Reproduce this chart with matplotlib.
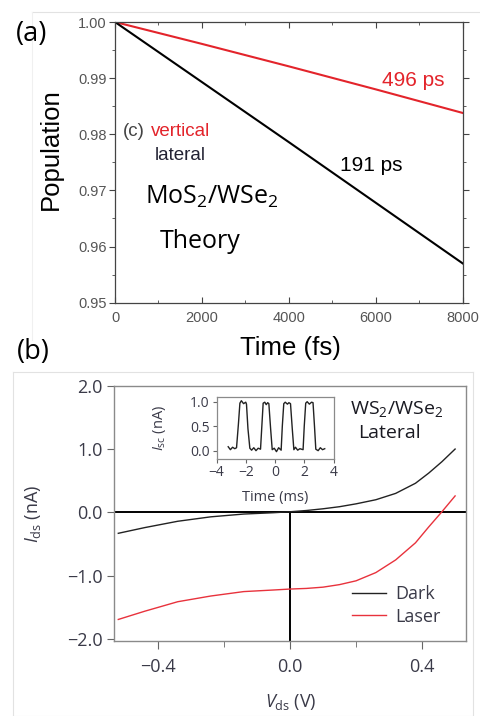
import matplotlib
matplotlib.use("Agg")
import matplotlib.pyplot as plt
from matplotlib.lines import Line2D
from matplotlib.ticker import MultipleLocator
import numpy as np

plt.rcParams['mathtext.fontset'] = 'custom'
plt.rcParams['mathtext.rm'] = 'Open Sans'
plt.rcParams['mathtext.it'] = 'Open Sans:italic'

# (a) population decay, theory
time_fs = [0, 2000, 4000, 6000, 8000]
pop_lateral = [1.0, 0.9893, 0.9786, 0.9678, 0.957]
pop_vertical = [1.0, 0.9961, 0.9921, 0.9880, 0.9838]

# (b) I-V curves
v_ds = [-0.52, -0.44, -0.34, -0.24, -0.14, -0.05, 0.0, 0.05, 0.1, 0.15, 0.2, 0.26, 0.32, 0.38, 0.42, 0.46, 0.5]
i_dark = [-0.33, -0.24, -0.14, -0.07, -0.026, -0.005, 0.01, 0.03, 0.057, 0.09, 0.135, 0.2, 0.3, 0.46, 0.62, 0.8, 1.0]
i_laser = [-1.69, -1.56, -1.41, -1.32, -1.25, -1.225, -1.21, -1.2, -1.18, -1.14, -1.08, -0.95, -0.75, -0.48, -0.23, 0.01, 0.26]

# inset: photocurrent switching
t_ms = [-3.2, -3.05, -2.9, -2.75, -2.63, -2.5, -2.4, -2.3, -2.15, -2.0, -1.95, -1.85, -1.72,
        -1.6, -1.45, -1.3, -1.15, -0.99, -0.9, -0.81, -0.7, -0.6, -0.5, -0.42, -0.3, -0.19,
        -0.05, 0.1, 0.25, 0.42, 0.5, 0.6, 0.7, 0.85, 0.95, 1.06, 1.18, 1.29, 1.4, 1.55,
        1.7, 1.92, 2.0, 2.1, 2.2, 2.35, 2.5, 2.6, 2.7, 2.79, 2.95, 3.1, 3.25, 3.4]
i_sc = [0.08, 0.02, 0.07, 0.04, 0.06, 0.55, 0.97, 1.02, 0.96, 0.99, 0.95, 0.45, 0.05,
        0.01, 0.06, 0.0, 0.05, 0.03, 0.5, 0.97, 0.99, 0.94, 0.98, 0.96, 0.45, 0.02,
        0.05, -0.02, 0.06, 0.01, 0.5, 0.96, 0.99, 0.95, 0.98, 0.96, 0.45, 0.02, 0.07, 0.01,
        0.04, 0.02, 0.5, 0.97, 1.0, 0.95, 0.99, 0.98, 0.5, 0.03, 0.0, 0.06, 0.02, 0.04]

fig = plt.figure(figsize=(4.8, 7.16), dpi=100)

# faint page borders
fig.add_artist(Line2D([32/480, 1], [1-12/716, 1-12/716], transform=fig.transFigure, color='#e2e2e2', lw=0.8))
fig.add_artist(Line2D([32/480, 32/480], [1-12/716, 1-340/716], transform=fig.transFigure, color='#f0f0f0', lw=0.8))
fig.add_artist(Line2D([12.7/480, 473/480, 473/480], [0, 0, 1-372/716], transform=fig.transFigure, color='#e2e2e2', lw=0.8))
fig.add_artist(Line2D([12.7/480, 473/480], [1-372/716, 1-372/716], transform=fig.transFigure, color='#e2e2e2', lw=0.8))
fig.add_artist(Line2D([12.7/480, 12.7/480], [0, 1-372/716], transform=fig.transFigure, color='#e2e2e2', lw=0.8))

# ---- panel (a)
ax = fig.add_axes([115/480, 1-302.7/716, 347.7/480, 280.7/716])
ax.plot(time_fs, pop_vertical, color='#e3242b', lw=1.5)
ax.plot(time_fs, pop_lateral, color='black', lw=1.5)
ax.set_xlim(0, 8000)
ax.set_ylim(0.95, 1.0)
ax.set_xticks([0, 2000, 4000, 6000, 8000])
ax.set_yticks([0.95, 0.96, 0.97, 0.98, 0.99, 1.00])
ax.set_yticklabels(['0.95', '0.96', '0.97', '0.98', '0.99', '1.00'])
ax.xaxis.set_minor_locator(MultipleLocator(1000))
ax.yaxis.set_minor_locator(MultipleLocator(0.005))
for s in ax.spines.values():
    s.set_color('#444444')
    s.set_linewidth(0.9)
ax.tick_params(axis='x', which='both', direction='in', top=True, colors='#444444',
               labelcolor='#555555', labelsize=10.5, pad=6)
ax.tick_params(axis='x', which='major', length=4)
ax.tick_params(axis='x', which='minor', length=2.5)
ax.tick_params(axis='y', which='both', direction='out', right=True, colors='#444444',
               labelcolor='#555555', labelsize=10.5, pad=2)
ax.tick_params(axis='y', which='major', length=4)
ax.tick_params(axis='y', which='minor', length=2)
for lab in ax.get_xticklabels() + ax.get_yticklabels():
    lab.set_family('Liberation Sans')
ax.set_ylabel('Population', family='Liberation Sans', fontsize=18.5)
ax.yaxis.set_label_coords(-0.184, 0.548)
ax.yaxis.label.set_va('center')
ax.set_xlabel('Time (fs)', family='Liberation Sans', fontsize=18.5)
ax.xaxis.set_label_coords(0.506, -0.161)
ax.xaxis.label.set_va('center')

ax.text(0.857, 0.793, '496 ps', transform=ax.transAxes, color='#e3242b', fontsize=15,
        family='Liberation Sans', ha='center', va='center')
ax.text(0.736, 0.487, '191 ps', transform=ax.transAxes, color='black', fontsize=15,
        family='Liberation Sans', ha='center', va='center')
ax.text(0.023, 0.611, '(c)', transform=ax.transAxes, color='#444444', fontsize=13.5,
        family='Liberation Sans', ha='left', va='center')
ax.text(0.103, 0.611, 'vertical', transform=ax.transAxes, color='#e3242b', fontsize=13.5,
        family='Liberation Sans', ha='left', va='center')
ax.text(0.115, 0.526, 'lateral', transform=ax.transAxes, color='#222233', fontsize=13.5,
        family='Liberation Sans', ha='left', va='center')
ax.text(0.086, 0.354, r'MoS$_2$/WSe$_2$', transform=ax.transAxes, color='black', fontsize=18,
        family='Open Sans', ha='left', va='baseline')
ax.text(0.129, 0.195, 'Theory', transform=ax.transAxes, color='black', fontsize=18,
        family='Open Sans', ha='left', va='baseline')

fig.text(32/480, 1-34/716, '(a)', family='Open Sans', fontsize=19.5, ha='center', va='center')
fig.text(33/480, 1-352/716, '(b)', family='Open Sans', fontsize=19.5, ha='center', va='center')

# ---- panel (b)
bx = fig.add_axes([114/480, 1-641/716, 352/480, 255.3/716])
bx.axhline(0, color='black', lw=1.4, zorder=1)
bx.axvline(0, ymin=0, ymax=2.03/4.03, color='black', lw=1.4, zorder=1)
bx.plot(v_ds, i_dark, color='#222222', lw=1.0, label='Dark', zorder=2)
bx.plot(v_ds, i_laser, color='#e8323c', lw=1.0, label='Laser', zorder=2)
bx.set_xlim(-0.533, 0.533)
bx.set_ylim(-2.03, 2.0)
bx.set_xticks([-0.4, 0.0, 0.4])
bx.set_xticklabels(['\u22120.4', '0.0', '0.4'])
bx.set_yticks([-2.0, -1.0, 0.0, 1.0, 2.0])
bx.set_yticklabels(['\u22122.0', '\u22121.0', '0.0', '1.0', '2.0'])
bx.xaxis.set_minor_locator(MultipleLocator(0.2))
for s in bx.spines.values():
    s.set_color('#8a8a8a')
    s.set_linewidth(1.0)
bx.tick_params(axis='both', which='both', direction='out', colors='#666666',
               labelcolor='#3a3a48', labelsize=13)
bx.tick_params(axis='x', which='major', length=6, pad=6)
bx.tick_params(axis='x', which='minor', length=4)
bx.tick_params(axis='y', which='major', length=5, pad=3)
for lab in bx.get_xticklabels() + bx.get_yticklabels():
    lab.set_family('Open Sans')
bx.set_ylabel(r'$I_{\rm ds}$ (nA)', family='Open Sans', fontsize=13, color='#3a3a48')
bx.yaxis.set_label_coords(-0.230, 0.497)
bx.yaxis.label.set_va('center')
bx.set_xlabel(r'$V_{\rm ds}$ (V)', family='Open Sans', fontsize=13, color='#3a3a48')
bx.xaxis.set_label_coords(0.503, -0.239)
bx.xaxis.label.set_va('center')
bx.text(0.670, 0.889, r'WS$_2$/WSe$_2$', transform=bx.transAxes, family='Open Sans',
        fontsize=14, color='#1a1a22', ha='left', va='baseline')
bx.text(0.693, 0.794, 'Lateral', transform=bx.transAxes, family='Open Sans',
        fontsize=14, color='#1a1a22', ha='left', va='baseline')
leg = bx.legend(loc='upper left', bbox_to_anchor=(0.676, 0.219), frameon=False,
                handlelength=1.9, handletextpad=0.5, labelspacing=0.25,
                borderpad=0, borderaxespad=0, prop={'family': 'Open Sans', 'size': 13})
for t in leg.get_texts():
    t.set_color('#3a3a48')

# inset
ix = fig.add_axes([216.5/480, 1-458.5/716, 117/480, 61.5/716])
ix.plot(t_ms, i_sc, color='#222222', lw=1.0)
ix.set_xlim(-4, 4)
ix.set_ylim(-0.16, 1.096)
ix.set_xticks([-4, -2, 0, 2, 4])
ix.set_xticklabels(['\u22124', '\u22122', '0', '2', '4'])
ix.set_yticks([0.0, 0.5, 1.0])
ix.set_yticklabels(['0.0', '0.5', '1.0'])
for s in ix.spines.values():
    s.set_color('#8a8a8a')
    s.set_linewidth(0.9)
ix.tick_params(axis='both', direction='out', length=3, colors='#666666',
               labelcolor='#3a3a48', labelsize=10, pad=2)
for lab in ix.get_xticklabels() + ix.get_yticklabels():
    lab.set_family('Open Sans')
ix.set_ylabel(r'$I_{\rm sc}$ (nA)', family='Open Sans', fontsize=10.5, color='#3a3a48')
ix.yaxis.set_label_coords(-0.483, 0.496)
ix.yaxis.label.set_va('center')
ix.set_xlabel('Time (ms)', family='Open Sans', fontsize=10.5, color='#3a3a48')
ix.xaxis.set_label_coords(0.5, -0.642)
ix.xaxis.label.set_va('center')

fig.savefig('out.png', dpi=100)
